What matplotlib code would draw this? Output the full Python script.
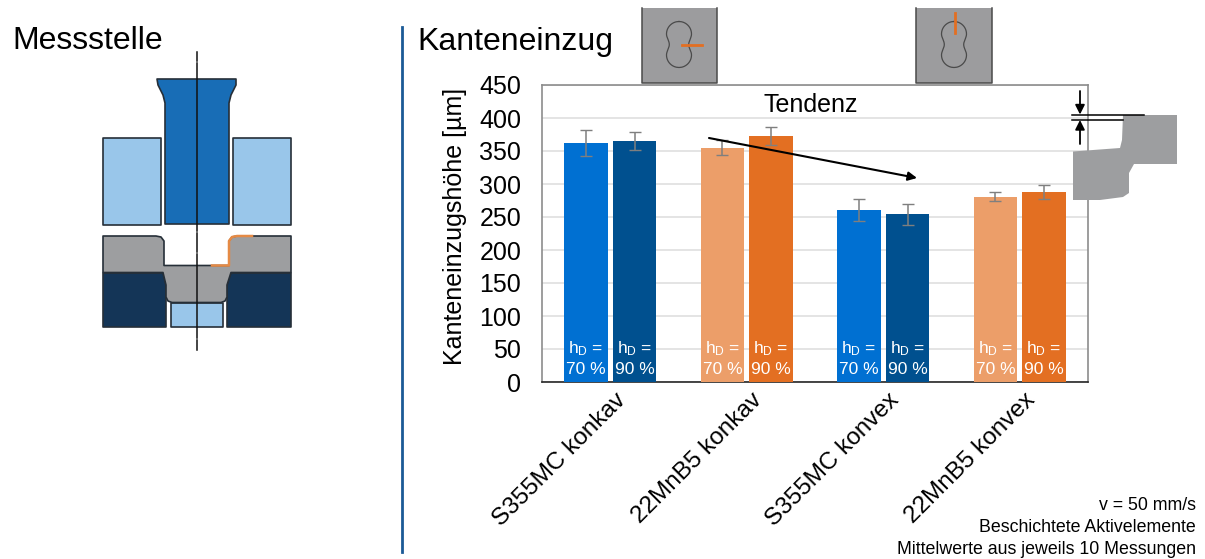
import numpy as np
import matplotlib
matplotlib.use("Agg")
import matplotlib.pyplot as plt
from matplotlib.patches import Polygon, Rectangle

plt.rcParams['font.family'] = ['Liberation Sans', 'DejaVu Sans']
plt.rcParams['mathtext.fontset'] = 'custom'
plt.rcParams['mathtext.rm'] = 'Liberation Sans'
plt.rcParams['mathtext.default'] = 'rm'

#===========================
# DATA
#===========================
categories = ["S355MC konkav", "22MnB5 konkav", "S355MC konvex", "22MnB5 konvex"]
hd70_values = [362, 355, 261, 281]
hd90_values = [365, 373, 254, 288]
hd70_errors = [20, 11, 17, 7]
hd90_errors = [14, 14, 16, 11]
yticks = [0, 50, 100, 150, 200, 250, 300, 350, 400, 450]
hd70_colors = ['#0070D2', '#EC9E69', '#0070D2', '#EC9E69']
hd90_colors = ['#00508F', '#E36F22', '#00508F', '#E36F22']
notes = ["v = 50 mm/s", "Beschichtete Aktivelemente", "Mittelwerte aus jeweils 10 Messungen"]

#===========================
# COLORS
#===========================
EDGE = '#262F38'
LIGHT = '#99C6EA'
MID = '#186DB6'
DARK = '#143557'
GRAY = '#9D9EA0'
ORANGE = '#E36F22'

W, H = 1205, 559
fig = plt.figure(figsize=(W/100.0, H/100.0), dpi=100)

#=======================================================
#                  BAR CHART
#=======================================================
ax = fig.add_axes([542.0/W, 1-382.0/H, 546.0/W, 297.0/H])
x = np.arange(len(categories))
bw = 0.32
off = 0.178
err = dict(ecolor='#7F7F7F', elinewidth=1.1, capsize=4.5, capthick=1.0)
ax.bar(x-off, hd70_values, bw, color=hd70_colors, yerr=hd70_errors, error_kw=err, zorder=3)
ax.bar(x+off, hd90_values, bw, color=hd90_colors, yerr=hd90_errors, error_kw=err, zorder=3)
ax.set_xlim(-0.5, 3.5)
ax.set_ylim(0, 450)
ax.set_yticks(yticks)
# ticks have no length, nudged so the rotated labels end where they should
ax.set_xticks(x+0.03)
ax.set_xticklabels(categories, rotation=45, ha='right', va='top', rotation_mode='anchor', fontsize=17.5)
ax.tick_params(axis='both', length=0)
ax.tick_params(axis='y', labelsize=18, pad=15)
ax.tick_params(axis='x', pad=5)
ax.grid(axis='y', color='#E2E2E2', linewidth=1.3, zorder=0)
ax.set_axisbelow(True)
for s in ['left', 'right', 'top']:
    ax.spines[s].set_color('#8C8C8C')
    ax.spines[s].set_linewidth(1.2)
ax.spines['bottom'].set_color('#262626')
ax.spines['bottom'].set_linewidth(1.2)
ax.set_ylabel("Kanteneinzugshöhe [µm]", fontsize=18)
ax.yaxis.set_label_coords(-0.137, 0.525)

for i in x:
    for xp in (i-off, i+off):
        ax.text(xp, 50, "h$_{D}$ =", color='white', fontsize=12.5, ha='center', va='center', zorder=4)
    ax.text(i-off, 19, "70 %", color='white', fontsize=12.5, ha='center', va='center', zorder=4)
    ax.text(i+off, 19, "90 %", color='white', fontsize=12.5, ha='center', va='center', zorder=4)

#=======================================================
#        OVERLAY IN PIXEL COORDS (schematics, titles)
#=======================================================
ov = fig.add_axes([0, 0, 1, 1])
ov.set_xlim(0, W)
ov.set_ylim(H, 0)
ov.axis('off')
ov.patch.set_alpha(0)

ov.text(12, 41, "Messstelle", fontsize=23, ha='left', va='center')
ov.text(417, 42, "Kanteneinzug", fontsize=23, ha='left', va='center')
ov.plot([402, 402], [27, 552], color='#1B5A96', linewidth=2)

ov.text(811, 105, "Tendenz", fontsize=18, ha='center', va='center')
ov.annotate("", xy=(917, 178), xytext=(709, 138),
            arrowprops=dict(arrowstyle='-|>', color='black', lw=1.5, mutation_scale=13, shrinkA=0, shrinkB=0))

for k, line in enumerate(notes):
    ov.text(1196, 506+k*21.7, line, fontsize=12.8, ha='right', va='center')

#****************************
#  TOOL SCHEMATIC
#****************************
def poly(pts, color, z=2, lw=1.2):
    ov.add_patch(Polygon(pts, closed=True, facecolor=color, edgecolor=EDGE, linewidth=lw, zorder=z, joinstyle='round'))

punch = [(157, 79), (236, 79), (236, 85), (231, 95), (229, 103), (229, 224), (165, 224), (165, 103), (163, 95), (158, 85)]
poly(punch, MID)
poly([(103, 138), (161, 138), (161, 224.5), (103, 224.5)], LIGHT)
poly([(233, 138), (291, 138), (291, 224.5), (233, 224.5)], LIGHT)
poly([(103, 273), (163, 273), (166, 285), (166, 327), (103, 327)], DARK)
poly([(291, 273), (231, 273), (227, 285), (227, 327), (291, 327)], DARK)
poly([(171, 303), (223, 303), (223, 327), (171, 327)], LIGHT)
sheet = [(103, 236), (156, 236), (161, 237), (164, 241), (164, 265.5), (229, 265.5), (229, 241), (232, 237), (237, 236),
         (291, 236), (291, 272.5), (231, 272.5), (227, 285), (227, 297), (225, 301), (221, 302.5), (172, 302.5),
         (168, 301), (166, 297), (166, 285), (163, 272.5), (103, 272.5)]
poly(sheet, GRAY, z=3)
ov.plot([212, 229, 229, 232, 237, 252], [265.5, 265.5, 241, 237, 236, 236], color='#E58A45', linewidth=1.8, zorder=4)
# centre line, breaks
for y0, y1 in [(52, 61), (63, 231), (233, 252), (254, 338), (340, 350)]:
    ov.plot([196.7, 196.7], [y0, y1], color='#111111', linewidth=1.1, zorder=5)

#****************************
#  SPECIMEN THUMBNAILS
#****************************
def hole(cx, cy, lobe=12.5, waist=9.7, c=10.5):
    # two round lobes joined by a narrow waist
    dy = np.linspace(-(c+lobe), c+lobe, 161)
    hw = np.where(np.abs(dy) >= c,
                  np.sqrt(np.clip(lobe**2-(np.abs(dy)-c)**2, 0, None)),
                  waist+(lobe-waist)*0.5*(1-np.cos(np.pi*dy/c)))
    xs = np.r_[cx+hw, (cx-hw)[::-1]]
    ys = np.r_[cy+dy, (cy+dy)[::-1]]
    ov.plot(xs, ys, color='#4A4A4A', linewidth=0.9, zorder=3)

def thumb(x0, x1, cx, cy):
    ov.add_patch(Rectangle((x0, 8), x1-x0, 74.5, facecolor='#9C9C9E', edgecolor='none', zorder=2))
    ov.plot([x0, x0, x1, x1], [8, 82.5, 82.5, 8], color='#4A4A4A', linewidth=1.1, zorder=3)
    hole(cx, cy)

thumb(642, 717, 679, 44.5)
thumb(916, 992, 954, 44.5)
ov.plot([682, 702], [44.7, 44.7], color=ORANGE, linewidth=2, zorder=4)
ov.plot([955, 955], [13, 33], color=ORANGE, linewidth=2, zorder=4)

#****************************
#  EDGE PROFILE
#****************************
profile = [(1123, 115), (1177, 115), (1177, 164), (1134, 164), (1129, 173), (1129, 193), (1123, 197), (1100, 200),
           (1073, 200), (1073, 151.5), (1120, 148), (1122, 140)]
ov.add_patch(Polygon(profile, closed=True, facecolor=GRAY, edgecolor='none', zorder=2))
ov.plot([1072, 1144], [115, 115], color='black', linewidth=1.1, zorder=4)
ov.plot([1072, 1123], [119.5, 119.5], color='black', linewidth=1.1, zorder=4)
ov.annotate("", xy=(1080, 114.5), xytext=(1080, 91),
            arrowprops=dict(arrowstyle='-|>', color='black', lw=1.3, mutation_scale=14, shrinkA=0, shrinkB=0))
ov.annotate("", xy=(1080, 120), xytext=(1080, 144),
            arrowprops=dict(arrowstyle='-|>', color='black', lw=1.3, mutation_scale=14, shrinkA=0, shrinkB=0))

fig.savefig("out.png", dpi=100)
